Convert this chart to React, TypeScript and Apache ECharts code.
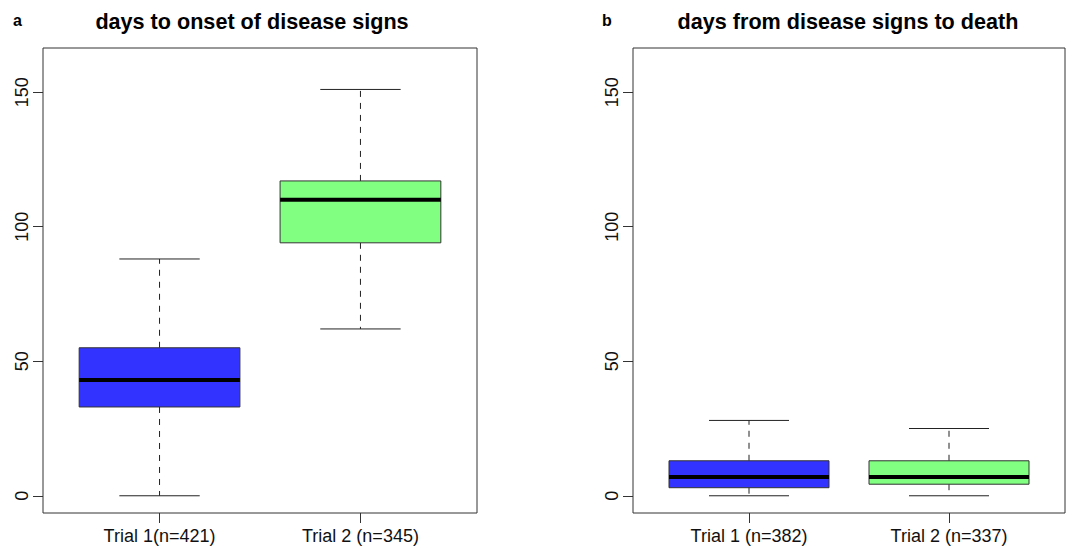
import React, { useEffect, useRef } from "react";
import * as echarts from "echarts";

const panelALetter = "a";
const panelBLetter = "b";
const panelATitle = "days to onset of disease signs";
const panelBTitle = "days from disease signs to death";
const panelACategories = ["Trial 1(n=421)", "Trial 2 (n=345)"];
const panelBCategories = ["Trial 1 (n=382)", "Trial 2 (n=337)"];
// each row: [min, q1, median, q3, max]
const panelAStats = [
  [0, 33, 43, 55, 88],
  [62, 94, 110, 117, 151],
];
const panelBStats = [
  [0, 3, 7, 13, 28],
  [0, 4.3, 7, 13, 25],
];
const boxColors = ["#3333FF", "#80FF80"];
const yTicks = [0, 50, 100, 150];
const xTicks = [1, 2];

const FONT = "'Liberation Sans', Arial, Helvetica, sans-serif";

const renderBox = (params: any, api: any) => {
  const x = api.value(0);
  const mn = api.value(1);
  const q1 = api.value(2);
  const md = api.value(3);
  const q3 = api.value(4);
  const mx = api.value(5);
  const color = boxColors[api.value(6)];
  const halfBox = api.size([0.4, 0])[0];
  const halfCap = api.size([0.2, 0])[0];
  const pMin = api.coord([x, mn]);
  const pQ1 = api.coord([x, q1]);
  const pMd = api.coord([x, md]);
  const pQ3 = api.coord([x, q3]);
  const pMax = api.coord([x, mx]);
  const cx = pMin[0];
  const stroke = "#222";
  return {
    type: "group",
    children: [
      {
        type: "line",
        shape: { x1: cx, y1: pQ3[1], x2: cx, y2: pMax[1] },
        style: { stroke, lineWidth: 1, lineDash: [6, 6] },
      },
      {
        type: "line",
        shape: { x1: cx, y1: pQ1[1], x2: cx, y2: pMin[1] },
        style: { stroke, lineWidth: 1, lineDash: [6, 6] },
      },
      {
        type: "line",
        shape: { x1: cx - halfCap, y1: pMax[1], x2: cx + halfCap, y2: pMax[1] },
        style: { stroke, lineWidth: 1 },
      },
      {
        type: "line",
        shape: { x1: cx - halfCap, y1: pMin[1], x2: cx + halfCap, y2: pMin[1] },
        style: { stroke, lineWidth: 1 },
      },
      {
        type: "rect",
        shape: { x: cx - halfBox, y: pQ3[1], width: 2 * halfBox, height: pQ1[1] - pQ3[1] },
        style: { fill: color, stroke: "#333", lineWidth: 1 },
      },
      {
        type: "line",
        shape: { x1: cx - halfBox, y1: pMd[1], x2: cx + halfBox, y2: pMd[1] },
        style: { stroke: "#000", lineWidth: 4 },
      },
    ],
  };
};

const makeX = (gridIndex: number, cats: string[]) => ({
  type: "value",
  gridIndex,
  min: 0.42,
  max: 2.58,
  axisLine: { show: false, onZero: false },
  splitLine: { show: false },
  axisTick: { show: true, customValues: xTicks, length: 10, lineStyle: { color: "#333", width: 1 } },
  axisLabel: {
    show: true,
    customValues: xTicks,
    formatter: (v: number) => cats[Math.round(v) - 1] ?? "",
    fontSize: 18,
    color: "#111",
    fontFamily: FONT,
    margin: 14,
  },
});

const makeY = (gridIndex: number) => ({
  type: "value",
  gridIndex,
  min: -6.4,
  max: 166.4,
  axisLine: { show: false, onZero: false },
  splitLine: { show: false },
  axisTick: { show: true, customValues: yTicks, length: 10, lineStyle: { color: "#333", width: 1 } },
  axisLabel: {
    show: true,
    customValues: yTicks,
    rotate: 90,
    fontSize: 18,
    color: "#111",
    fontFamily: FONT,
    margin: 12,
  },
});

export default function App() {
  const ref = useRef<HTMLDivElement>(null);
  useEffect(() => {
    if (!ref.current) return;
    const chart = echarts.init(ref.current, undefined, { renderer: "svg" });
    const toData = (stats: number[][]) => stats.map((s, i) => [xTicks[i], ...s, i]);
    chart.setOption({
      animation: false,
      backgroundColor: "#fff",
      title: [
        { text: panelALetter, left: 13, top: 12, padding: 0, textStyle: { fontSize: 16, fontWeight: "bold", fontFamily: FONT, color: "#000" } },
        { text: panelBLetter, left: 602, top: 12, padding: 0, textStyle: { fontSize: 16, fontWeight: "bold", fontFamily: FONT, color: "#000" } },
        { text: panelATitle, left: 252, textAlign: "center", top: 10, padding: 0, textStyle: { fontSize: 21.6, fontWeight: "bold", fontFamily: FONT, color: "#000" } },
        { text: panelBTitle, left: 848, textAlign: "center", top: 10, padding: 0, textStyle: { fontSize: 21.6, fontWeight: "bold", fontFamily: FONT, color: "#000" } },
      ],
      grid: [
        { left: 43, top: 48, width: 434, height: 465, show: true, borderColor: "#333", borderWidth: 1, backgroundColor: "transparent" },
        { left: 633, top: 48, width: 432, height: 465, show: true, borderColor: "#333", borderWidth: 1, backgroundColor: "transparent" },
      ],
      xAxis: [makeX(0, panelACategories), makeX(1, panelBCategories)],
      yAxis: [makeY(0), makeY(1)],
      series: [
        {
          type: "custom",
          xAxisIndex: 0,
          yAxisIndex: 0,
          renderItem: renderBox,
          encode: { x: 0, y: [1, 2, 3, 4, 5] },
          data: toData(panelAStats),
          clip: false,
        },
        {
          type: "custom",
          xAxisIndex: 1,
          yAxisIndex: 1,
          renderItem: renderBox,
          encode: { x: 0, y: [1, 2, 3, 4, 5] },
          data: toData(panelBStats),
          clip: false,
        },
      ],
    });
    return () => chart.dispose();
  }, []);
  return (
    <div
      ref={ref}
      style={{ position: "fixed", left: 0, top: 0, width: 1072, height: 548, background: "#fff" }}
    />
  );
}
